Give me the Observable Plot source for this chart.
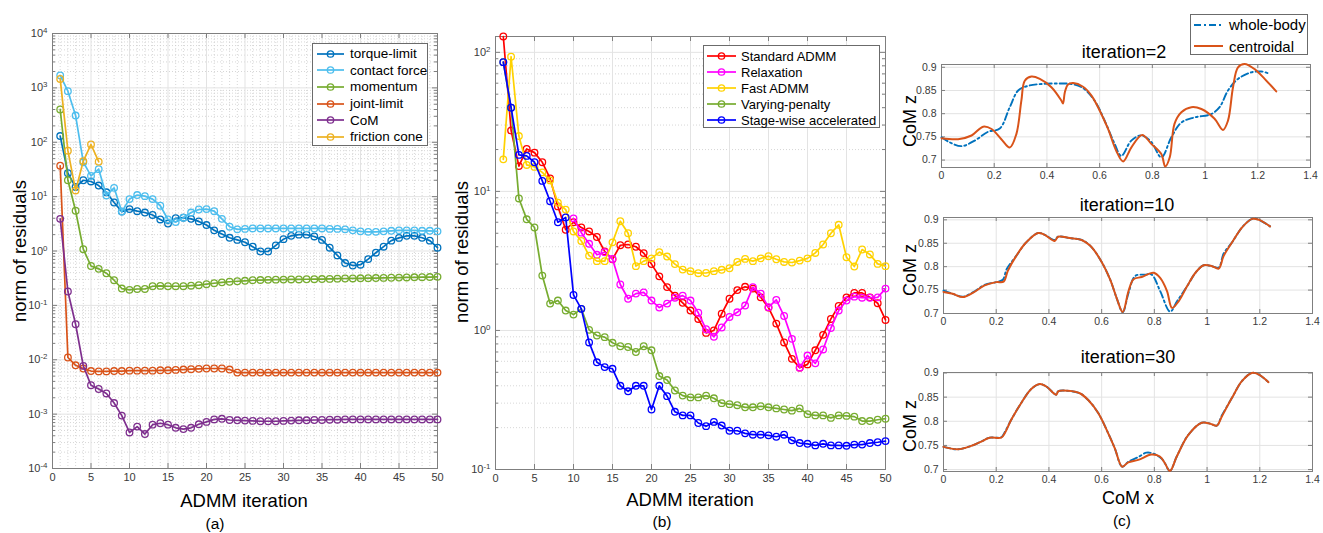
<!DOCTYPE html>
<html><head><meta charset="utf-8">
<script src="https://cdn.jsdelivr.net/npm/d3@7"></script>
<script src="https://cdn.jsdelivr.net/npm/@observablehq/plot@0.6"></script>
<style>
body{margin:0;background:#fff;}
#root{position:relative;width:1323px;height:533px;overflow:hidden;background:#fff;font-family:"Liberation Sans",Arial,Helvetica,sans-serif;}
.abs{position:absolute;}
.lbl{position:absolute;white-space:nowrap;color:#000;transform:translate(-50%,-50%);line-height:1;font-weight:normal;}
.rot{transform:translate(-50%,-50%) rotate(-90deg);}
.legend{position:absolute;background:#fff;border:1px solid #6b6b6b;box-sizing:border-box;}
.row{position:absolute;left:0;display:flex;align-items:center;white-space:nowrap;color:#000;line-height:1;}
</style></head><body><div id="root"></div><script>
// ---------------- Panel (a) data ----------------
const namesA = ["torque-limit","contact force","momentum","joint-limit","CoM","friction cone"];
const colorsA = ["#0072BD","#4DBEEE","#77AC30","#D95319","#7E2F8E","#EDB120"];
const torqueLimit = [130,27,15,20,19,16,12,7.8,5.3,5.9,5.4,5.1,4.6,3.8,3.2,4.0,4.1,3.9,3.5,3.0,2.4,2.05,1.75,1.6,1.45,1.2,0.98,0.98,1.27,1.65,1.9,2.0,2.0,1.85,1.6,1.15,0.83,0.6,0.54,0.56,0.71,0.93,1.2,1.55,1.74,1.9,1.9,1.75,1.55,1.15];
const contactForce = [1700,870,310,43,24,32,10.5,14.5,5.3,9,10.7,10.2,9,6.8,3.8,3.4,4.1,5.1,5.8,5.9,5.4,3.9,2.8,2.5,2.55,2.6,2.6,2.6,2.6,2.6,2.6,2.6,2.6,2.6,2.6,2.55,2.55,2.5,2.4,2.3,2.25,2.25,2.3,2.35,2.4,2.4,2.4,2.35,2.35,2.3];
const momentum = [400,20,5.5,1.08,0.53,0.47,0.39,0.29,0.204,0.193,0.2,0.2,0.225,0.228,0.225,0.225,0.225,0.23,0.235,0.245,0.255,0.265,0.272,0.278,0.283,0.29,0.292,0.295,0.297,0.298,0.3,0.3,0.302,0.303,0.305,0.307,0.31,0.312,0.313,0.315,0.317,0.318,0.32,0.322,0.324,0.326,0.328,0.33,0.332,0.335];
const jointLimit = [37,0.011,0.0079,0.0069,0.0062,0.0061,0.0061,0.0062,0.0062,0.0063,0.0063,0.0063,0.0063,0.0064,0.0064,0.0065,0.0066,0.0067,0.0068,0.0069,0.0069,0.0069,0.0066,0.0058,0.0058,0.0058,0.0058,0.0058,0.0058,0.0058,0.0058,0.0058,0.0058,0.0058,0.0058,0.0058,0.0058,0.0058,0.0058,0.0058,0.0058,0.0058,0.0058,0.0058,0.0058,0.0058,0.0058,0.0058,0.0058,0.0058];
const comRes = [3.9,0.18,0.045,0.0077,0.0034,0.0029,0.0024,0.0016,0.00094,0.00046,0.00059,0.00043,0.00064,0.00068,0.00064,0.00056,0.00053,0.00056,0.00065,0.00072,0.0008,0.00082,0.00078,0.00077,0.00076,0.00075,0.00074,0.00074,0.00074,0.00075,0.00076,0.00077,0.00077,0.00078,0.00078,0.00079,0.00079,0.0008,0.0008,0.0008,0.0008,0.0008,0.0008,0.0008,0.0008,0.0008,0.0008,0.0008,0.0008,0.0008];
const frictionCone = [1460,70,13,45,91,44];

// ---------------- Panel (b) data ----------------
const namesB = ["Standard ADMM","Relaxation","Fast ADMM","Varying-penalty","Stage-wise accelerated"];
const colorsB = ["#FF0000","#FF00FF","#FFD200","#77AC30","#0000FF"];
const standardADMM = [130,27.4,15.2,20.2,19,16.2,12.4,7.8,5.3,6.0,5.5,5.15,4.7,3.7,3.25,4.1,4.15,4.0,3.6,3.0,2.45,2.05,1.78,1.58,1.39,1.21,0.96,1.0,1.32,1.69,1.95,2.06,2.0,1.73,1.46,1.12,0.82,0.625,0.54,0.57,0.72,0.93,1.21,1.5,1.73,1.86,1.86,1.73,1.57,1.19];
const relaxation = [null,null,null,null,null,null,null,null,null,6.4,5.05,4.2,3.5,3.65,3.27,2.14,1.69,1.84,1.88,1.64,1.46,1.56,1.72,1.78,1.64,1.34,1.02,0.9,1.05,1.25,1.35,1.51,2.05,1.84,1.47,1.66,1.27,0.87,0.54,0.66,0.58,0.73,1.04,1.39,1.64,1.75,1.72,1.72,1.73,2.0];
const fastADMM = [17,93,25,15.5,15,13.7,12.0,8.3,7.4,5.15,4.4,3.45,3.15,3.15,4.3,6.1,5.0,2.9,3.15,3.3,3.66,3.4,3.0,2.74,2.67,2.58,2.59,2.67,2.73,2.8,3.11,3.27,3.15,3.3,3.42,3.25,3.11,3.08,3.18,3.3,3.61,4.15,5.0,5.75,3.36,2.88,3.82,3.52,3.01,2.9];
const varyingPenalty = [85,40,8.9,6.3,5.5,2.48,1.56,1.64,1.39,1.30,1.43,1.01,0.92,0.895,0.815,0.77,0.76,0.70,0.77,0.72,0.47,0.44,0.37,0.34,0.33,0.33,0.34,0.325,0.30,0.295,0.29,0.28,0.28,0.285,0.28,0.275,0.27,0.265,0.275,0.25,0.245,0.245,0.235,0.245,0.243,0.24,0.223,0.223,0.228,0.232];
const stageWise = [85,40,18.3,18,16.2,11.9,8.5,6.0,6.5,1.8,1.43,0.82,0.59,0.545,0.53,0.40,0.365,0.40,0.40,0.27,0.40,0.337,0.26,0.245,0.245,0.216,0.205,0.22,0.207,0.19,0.19,0.182,0.178,0.178,0.176,0.172,0.178,0.162,0.155,0.153,0.149,0.153,0.149,0.149,0.148,0.151,0.151,0.155,0.157,0.16];

// ---------------- Panel (c) data ----------------
const namesC = ["whole-body","centroidal"];
const colorsC = ["#0072BD","#D95319"];
const titlesC = ["iteration=2","iteration=10","iteration=30"];
const wb2x = [0,0.032,0.076,0.126,0.177,0.221,0.259,0.291,0.329,0.379,0.442,0.493,0.537,0.581,0.619,0.657,0.682,0.72,0.758,0.796,0.834,0.872,0.91,0.96,1.023,1.055,1.087,1.125,1.175,1.213,1.24];
const wb2y = [0.749,0.738,0.73,0.742,0.761,0.768,0.814,0.85,0.86,0.864,0.865,0.864,0.855,0.828,0.785,0.735,0.709,0.742,0.753,0.739,0.706,0.749,0.781,0.792,0.799,0.814,0.85,0.875,0.889,0.891,0.887];
const ce2x = [0,0.063,0.114,0.158,0.19,0.227,0.259,0.284,0.303,0.316,0.341,0.373,0.417,0.455,0.461,0.468,0.48,0.5,0.537,0.569,0.6,0.632,0.663,0.689,0.72,0.761,0.796,0.834,0.849,0.866,0.884,0.91,0.948,0.986,1.036,1.068,1.087,1.106,1.125,1.15,1.188,1.226,1.27];
const ce2y = [0.747,0.745,0.753,0.772,0.767,0.745,0.727,0.756,0.828,0.871,0.880,0.875,0.857,0.828,0.822,0.846,0.863,0.866,0.858,0.839,0.807,0.767,0.72,0.697,0.727,0.754,0.735,0.713,0.686,0.706,0.778,0.803,0.814,0.81,0.789,0.765,0.785,0.857,0.9,0.907,0.896,0.875,0.848];
const wb10x = [0,0.035,0.073,0.111,0.156,0.2,0.225,0.24,0.276,0.314,0.359,0.384,0.422,0.435,0.479,0.524,0.556,0.594,0.632,0.657,0.68,0.702,0.727,0.765,0.79,0.822,0.86,0.886,0.924,0.956,0.987,1.019,1.044,1.063,1.095,1.133,1.171,1.197,1.239];
const wb10y = [0.749,0.742,0.736,0.745,0.761,0.767,0.772,0.795,0.823,0.852,0.872,0.868,0.857,0.864,0.861,0.857,0.845,0.816,0.773,0.733,0.703,0.744,0.78,0.783,0.783,0.748,0.704,0.726,0.758,0.787,0.803,0.801,0.798,0.828,0.852,0.884,0.902,0.9,0.886];
const ce10x = [0,0.035,0.073,0.111,0.156,0.2,0.228,0.244,0.276,0.314,0.359,0.384,0.422,0.435,0.479,0.524,0.556,0.594,0.632,0.657,0.68,0.702,0.721,0.752,0.797,0.822,0.848,0.867,0.892,0.924,0.956,0.987,1.019,1.044,1.063,1.095,1.133,1.171,1.197,1.239];
const ce10y = [0.746,0.742,0.735,0.744,0.76,0.767,0.768,0.791,0.823,0.852,0.872,0.868,0.855,0.864,0.861,0.857,0.845,0.816,0.773,0.733,0.703,0.748,0.773,0.778,0.787,0.776,0.748,0.712,0.726,0.758,0.787,0.803,0.801,0.796,0.823,0.852,0.884,0.902,0.9,0.886];
const wb30x = [0,0.054,0.105,0.143,0.175,0.219,0.232,0.257,0.295,0.333,0.365,0.39,0.428,0.435,0.473,0.517,0.549,0.587,0.625,0.65,0.678,0.701,0.739,0.77,0.796,0.827,0.84,0.859,0.885,0.929,0.98,1.012,1.037,1.056,1.094,1.132,1.17,1.195,1.233];
const wb30y = [0.747,0.742,0.749,0.758,0.766,0.767,0.777,0.803,0.838,0.867,0.877,0.872,0.855,0.862,0.863,0.858,0.844,0.817,0.775,0.744,0.706,0.716,0.726,0.735,0.733,0.723,0.713,0.697,0.727,0.772,0.797,0.795,0.791,0.812,0.848,0.883,0.9,0.897,0.881];
const ce30x = [0,0.054,0.105,0.143,0.175,0.219,0.232,0.257,0.295,0.333,0.365,0.39,0.428,0.435,0.473,0.517,0.549,0.587,0.625,0.65,0.678,0.701,0.739,0.789,0.821,0.84,0.859,0.885,0.929,0.98,1.012,1.037,1.056,1.094,1.132,1.17,1.195,1.233];
const ce30y = [0.747,0.742,0.749,0.758,0.766,0.766,0.775,0.803,0.838,0.867,0.877,0.872,0.855,0.862,0.863,0.858,0.844,0.817,0.775,0.744,0.706,0.715,0.72,0.731,0.727,0.713,0.697,0.727,0.772,0.797,0.795,0.791,0.81,0.848,0.883,0.9,0.897,0.881];

// tick labels
const xTicksAB = [0,5,10,15,20,25,30,35,40,45,50];
const xTicksC = [0,0.2,0.4,0.6,0.8,1,1.2,1.4];
const yTicksC = [0.7,0.75,0.8,0.85,0.9];

// ---------------- helpers ----------------
const root = document.getElementById("root");
const FONT = '"Liberation Sans", Arial, Helvetica, sans-serif';
const FRAME = "#7f7f7f", GRID = "#e3e3e3", MINOR = "#cdcdcd", TICKTXT = "#3a3a3a";
const pow10 = d => "10^" + Math.round(Math.log10(d));
function place(el, left, top){ const w=document.createElement("div"); w.className="abs"; w.style.left=left+"px"; w.style.top=top+"px"; w.appendChild(el); root.appendChild(w); }
function label(text, x, y, size, rot){ const d=document.createElement("div"); d.className="lbl"+(rot?" rot":""); d.style.left=x+"px"; d.style.top=y+"px"; d.style.fontSize=size+"px"; d.textContent=text; root.appendChild(d); }
function legend(names, colors, opt){
  const box=document.createElement("div"); box.className="legend";
  Object.assign(box.style,{left:opt.left+"px",top:opt.top+"px",width:opt.width+"px",height:opt.height+"px"});
  names.forEach((n,k)=>{
    const r=document.createElement("div"); r.className="row";
    r.style.top=(opt.row0+k*opt.step-8)+"px"; r.style.height="16px"; r.style.left=opt.lineX+"px"; r.style.fontSize=opt.font+"px";
    const s=d3.create("svg").attr("width",opt.lineW+3).attr("height",16).style("display","block");
    const dash = opt.dash && opt.dash[k];
    s.append("line").attr("x1",0).attr("x2",opt.lineW).attr("y1",8).attr("y2",8).attr("stroke",colors[k]).attr("stroke-width",opt.lw).attr("stroke-dasharray",dash||null);
    if(opt.marker) s.append("circle").attr("cx",opt.lineW/2).attr("cy",8).attr("r",3.2).attr("fill","none").attr("stroke",colors[k]).attr("stroke-width",1.3);
    r.appendChild(s.node());
    const t=document.createElement("span"); t.textContent=n; t.style.marginLeft=opt.gap+"px"; r.appendChild(t);
    box.appendChild(r);
  });
  root.appendChild(box);
}
function minorLog(lo, hi){ const out=[]; for(let k=Math.floor(Math.log10(lo)); k<=Math.ceil(Math.log10(hi)); k++) for(let m=2;m<=9;m++){ const v=+(m*10**k).toPrecision(3); if(v>lo && v<hi) out.push(v);} return out; }
function majorLog(lo, hi){ const out=[]; for(let k=Math.ceil(Math.log10(lo)-1e-9); 10**k<=hi*1.0001; k++) out.push(+(10**k).toPrecision(3)); return out; }
// turn "10^k" tick labels into 10 with a raised exponent
function superscriptTicks(svg){
  svg.querySelectorAll("text").forEach(t=>{
    const s=t.textContent;
    if(!/^10\^-?\d+$/.test(s)) return;
    const e=s.slice(3);
    t.textContent="10";
    const ts=document.createElementNS("http://www.w3.org/2000/svg","tspan");
    ts.setAttribute("dy","-0.5em"); ts.setAttribute("font-size","0.72em"); ts.textContent=e;
    t.appendChild(ts);
  });
  return svg;
}

function logPanel(cfg){
  const [x0,x1]=[0,50];
  const innerW=cfg.width-cfg.mL-cfg.mR, innerH=cfg.height-cfg.mT-cfg.mB;
  const ux=(x1-x0)/innerW;
  const [ylo,yhi]=cfg.yDomain;
  const ly=(Math.log10(yhi)-Math.log10(ylo))/innerH;
  const major=majorLog(ylo,yhi), minor=minorLog(ylo,yhi);
  const rows=cfg.values.flatMap((vals,k)=>vals.map((v,j)=>({i:j+1,v,s:cfg.names[k]})).filter(d=>d.v!=null));
  const marks=[Plot.ruleY(minor,{stroke:MINOR,strokeDasharray:"1,2",strokeWidth:0.8})];
  if(cfg.xMinor){ const xm=d3.range(1,50).filter(v=>v%5!==0); marks.push(Plot.ruleX(xm,{stroke:MINOR,strokeDasharray:"1,2",strokeWidth:0.8})); }
  marks.push(Plot.ruleX(xTicksAB,{stroke:GRID}), Plot.ruleY(major,{stroke:GRID}));
  const tl=5, tm=3;
  marks.push(
    Plot.ruleY(major,{x1:x0,x2:x0+tl*ux,stroke:FRAME}),
    Plot.ruleY(major,{x1:x1-tl*ux,x2:x1,stroke:FRAME}),
    Plot.ruleY(minor,{x1:x0,x2:x0+tm*ux,stroke:FRAME}),
    Plot.ruleY(minor,{x1:x1-tm*ux,x2:x1,stroke:FRAME}),
    Plot.ruleX(xTicksAB,{y1:ylo,y2:ylo*10**(tl*ly),stroke:FRAME}),
    Plot.ruleX(xTicksAB,{y1:yhi/10**(tl*ly),y2:yhi,stroke:FRAME}),
    Plot.frame({stroke:FRAME})
  );
  cfg.names.forEach((n,k)=>{
    const d=rows.filter(r=>r.s===n);
    marks.push(Plot.line(d,{x:"i",y:"v",stroke:cfg.colors[k],strokeWidth:1.7}));
    marks.push(Plot.dot(d,{x:"i",y:"v",r:3.3,stroke:cfg.colors[k],strokeWidth:1.3,fill:"none"}));
  });
  return superscriptTicks(Plot.plot({
    width:cfg.width,height:cfg.height,marginLeft:cfg.mL,marginRight:cfg.mR,marginTop:cfg.mT,marginBottom:cfg.mB,
    style:{fontFamily:FONT,fontSize:"11px",color:TICKTXT,background:"transparent",overflow:"visible"},
    x:{domain:[x0,x1],ticks:xTicksAB,tickSize:0,tickPadding:5,label:null},
    y:{type:"log",domain:cfg.yDomain,ticks:major,tickFormat:pow10,tickSize:0,tickPadding:5,label:null},
    marks
  }));
}

function comPanel(cfg){
  const innerW=cfg.width-cfg.mL-cfg.mR, innerH=cfg.height-cfg.mT-cfg.mB;
  const ux=1.4/innerW, uy=(cfg.yDomain[1]-cfg.yDomain[0])/innerH;
  const [ylo,yhi]=cfg.yDomain, tl=4;
  const series=[{x:cfg.wx,y:cfg.wy},{x:cfg.cx,y:cfg.cy}].map((s,k)=>s.x.map((x,j)=>({x,y:s.y[j],s:namesC[k]})));
  return Plot.plot({
    width:cfg.width,height:cfg.height,marginLeft:cfg.mL,marginRight:cfg.mR,marginTop:cfg.mT,marginBottom:cfg.mB,
    style:{fontFamily:FONT,fontSize:"10.5px",color:TICKTXT,background:"transparent",overflow:"visible"},
    x:{domain:[0,1.4],ticks:xTicksC,tickFormat:d=>String(+d.toFixed(2)),tickSize:0,tickPadding:4,label:null},
    y:{domain:cfg.yDomain,ticks:yTicksC,tickFormat:d=>String(+d.toFixed(2)),tickSize:0,tickPadding:5,label:null},
    marks:[
      Plot.ruleX(xTicksC,{stroke:GRID}),
      Plot.ruleY(yTicksC,{stroke:GRID}),
      Plot.ruleY(yTicksC,{x1:0,x2:tl*ux,stroke:FRAME}),
      Plot.ruleY(yTicksC,{x1:1.4-tl*ux,x2:1.4,stroke:FRAME}),
      Plot.ruleX(xTicksC,{y1:ylo,y2:ylo+tl*uy,stroke:FRAME}),
      Plot.ruleX(xTicksC,{y1:yhi-tl*uy,y2:yhi,stroke:FRAME}),
      Plot.frame({stroke:FRAME}),
      Plot.line(series[0],{x:"x",y:"y",stroke:colorsC[0],strokeWidth:1.9,strokeDasharray:"7,3,2,3",curve:"catmull-rom"}),
      Plot.line(series[1],{x:"x",y:"y",stroke:colorsC[1],strokeWidth:2,curve:"catmull-rom"})
    ]
  });
}

// ---------------- build panel (a) ----------------
place(logPanel({values:[torqueLimit,contactForce,momentum,jointLimit,comRes,frictionCone],names:namesA,colors:colorsA,
  yDomain:[1e-4,1e4],xMinor:true,width:450,height:490,mL:52,mR:13,mT:33,mB:22}),0,0);
legend(namesA,colorsA,{left:312,top:43,width:116,height:103,row0:9.7,step:16.67,lineX:4,lineW:27,gap:3,font:13.5,lw:1.7,marker:true});
label("norm of residuals",20,251,18.5,true);
label("ADMM iteration",244,501,18.5);
label("(a)",215,524,15.5);

// ---------------- build panel (b) ----------------
place(logPanel({values:[standardADMM,relaxation,fastADMM,varyingPenalty,stageWise],names:namesB,colors:colorsB,
  yDomain:[0.1,130],xMinor:false,width:455,height:491,mL:55,mR:10,mT:36,mB:22}),440,0);
legend(namesB,colorsB,{left:703,top:45,width:177,height:83,row0:10,step:16,lineX:3,lineW:29,gap:2,font:13,lw:1.7,marker:true});
label("norm of residuals",462,252,18.5,true);
label("ADMM iteration",690,500,18.5);
label("(b)",662,522,15.5);

// ---------------- build panel (c) ----------------
place(comPanel({wx:wb2x,wy:wb2y,cx:ce2x,cy:ce2y,yDomain:[0.684,0.906],width:425,height:127,mL:46,mR:10,mT:4,mB:20}),895,60);
place(comPanel({wx:wb10x,wy:wb10y,cx:ce10x,cy:ce10y,yDomain:[0.7,0.905],width:425,height:120,mL:46,mR:10,mT:4,mB:20}),897,213);
place(comPanel({wx:wb30x,wy:wb30y,cx:ce30x,cy:ce30y,yDomain:[0.696,0.901],width:425,height:124,mL:46,mR:10,mT:5,mB:20}),897,367);
label(titlesC[0],1124,52,18);
label(titlesC[1],1127,205,18);
label(titlesC[2],1128,357,18);
label("CoM z",910,121,18,true);
label("CoM z",910,270,18,true);
label("CoM z",910,426,18,true);
label("CoM x",1128,498,18);
label("(c)",1122,521,15.5);
legend(namesC,colorsC,{left:1190,top:14,width:118,height:41,row0:9.5,step:21.5,lineX:3,lineW:29,gap:3,font:15,lw:2,marker:false,dash:["7,3,2,3",null]});
</script></body></html>
